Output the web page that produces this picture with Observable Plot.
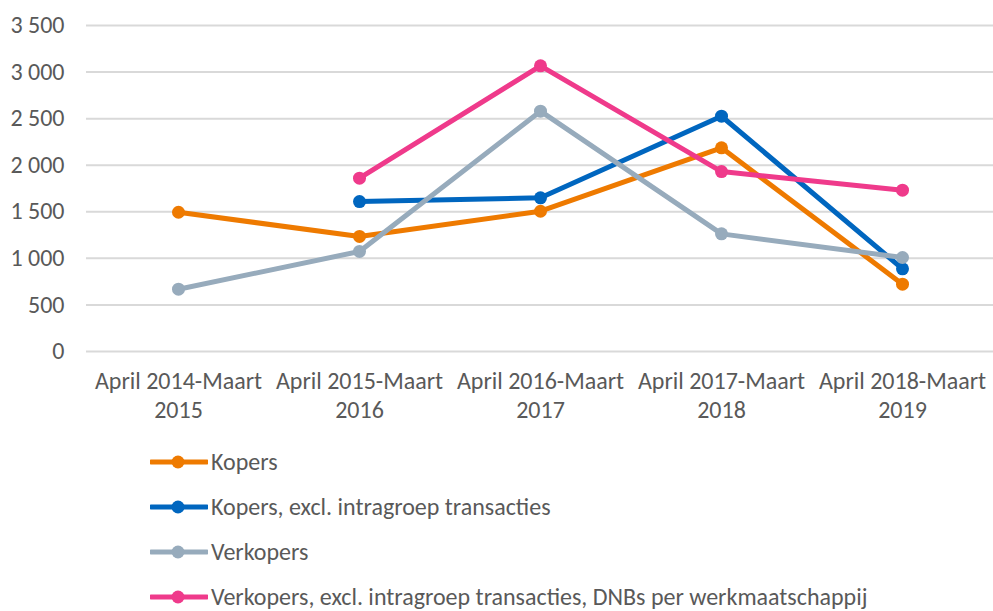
<!DOCTYPE html>
<html>
<head>
<meta charset="utf-8">
<script src="https://cdn.jsdelivr.net/npm/d3@7"></script>
<script src="https://cdn.jsdelivr.net/npm/@observablehq/plot@0.6"></script>
<style>
  body { margin: 0; background: #fff; font-family: Carlito, "Liberation Sans Narrow", "Open Sans", sans-serif; }
  #legend { padding-top: 9px; }
  .row { height: 45px; display: flex; align-items: center; padding-left: 150px; color: #595959; font-size: 24px; line-height: 1; }
  .row svg { margin-right: 3px; }
</style>
</head>
<body>
<div id="chart"></div>
<div id="legend"></div>
<script>
const periods = ["April 2014-Maart\n2015", "April 2015-Maart\n2016", "April 2016-Maart\n2017", "April 2017-Maart\n2018", "April 2018-Maart\n2019"];
const seriesNames = ["Kopers", "Kopers, excl. intragroep transacties", "Verkopers", "Verkopers, excl. intragroep transacties, DNBs per werkmaatschappij"];
const colors = ["#ee7a00", "#0066bf", "#97abbc", "#ef3a8b"];
const kopers = [1495, 1235, 1506, 2187, 723];
const kopersExcl = [null, 1610, 1650, 2526, 888];
const verkopers = [669, 1074, 2580, 1263, 1009];
const verkopersExcl = [null, 1861, 3067, 1932, 1732];
const yTicks = [0, 500, 1000, 1500, 2000, 2500, 3000, 3500];

const allSeries = [kopers, kopersExcl, verkopers, verkopersExcl];
const data = [];
allSeries.forEach((vals, si) => vals.forEach((v, i) => data.push({series: seriesNames[si], period: periods[i], value: v})));
const fmt = d => d3.format(",")(d).replace(/,/g, " ");

const chart = Plot.plot({
  width: 993,
  height: 430,
  marginLeft: 86,
  marginRight: 0,
  marginTop: 25,
  marginBottom: 79,
  style: {fontFamily: 'Carlito, "Liberation Sans Narrow", "Open Sans", sans-serif', color: "#595959", background: "#fff"},
  x: {type: "point", domain: periods, padding: 0.5},
  y: {domain: [0, 3500]},
  color: {domain: seriesNames, range: colors},
  marks: [
    Plot.gridY(yTicks, {stroke: "#d9d9d9", strokeOpacity: 1, strokeWidth: 2}),
    Plot.axisY(yTicks, {tickFormat: fmt, tickSize: 0, tickPadding: 22, fontSize: 24, label: null, fill: "#595959"}),
    Plot.axisX({tickSize: 0, tickPadding: 18, fontSize: 24, lineHeight: 1.17, label: null, fill: "#595959"}),
    ...allSeries.map((vals, si) => Plot.line(data.filter(d => d.series === seriesNames[si]), {x: "period", y: "value", stroke: colors[si], strokeWidth: 5, strokeLinejoin: "round"})),
    ...allSeries.map((vals, si) => Plot.dot(data.filter(d => d.series === seriesNames[si] && d.value != null), {x: "period", y: "value", fill: colors[si], r: 6.5}))
  ]
});
document.getElementById("chart").appendChild(chart);

const legend = document.getElementById("legend");
seriesNames.forEach((name, i) => {
  const row = document.createElement("div");
  row.className = "row";
  row.innerHTML = `<svg width="58" height="16"><line x1="1" y1="8" x2="57" y2="8" stroke="${colors[i]}" stroke-width="5" stroke-linecap="round"/><circle cx="28" cy="8" r="6.5" fill="${colors[i]}"/></svg><span>${name}</span>`;
  legend.appendChild(row);
});
</script>
</body>
</html>
